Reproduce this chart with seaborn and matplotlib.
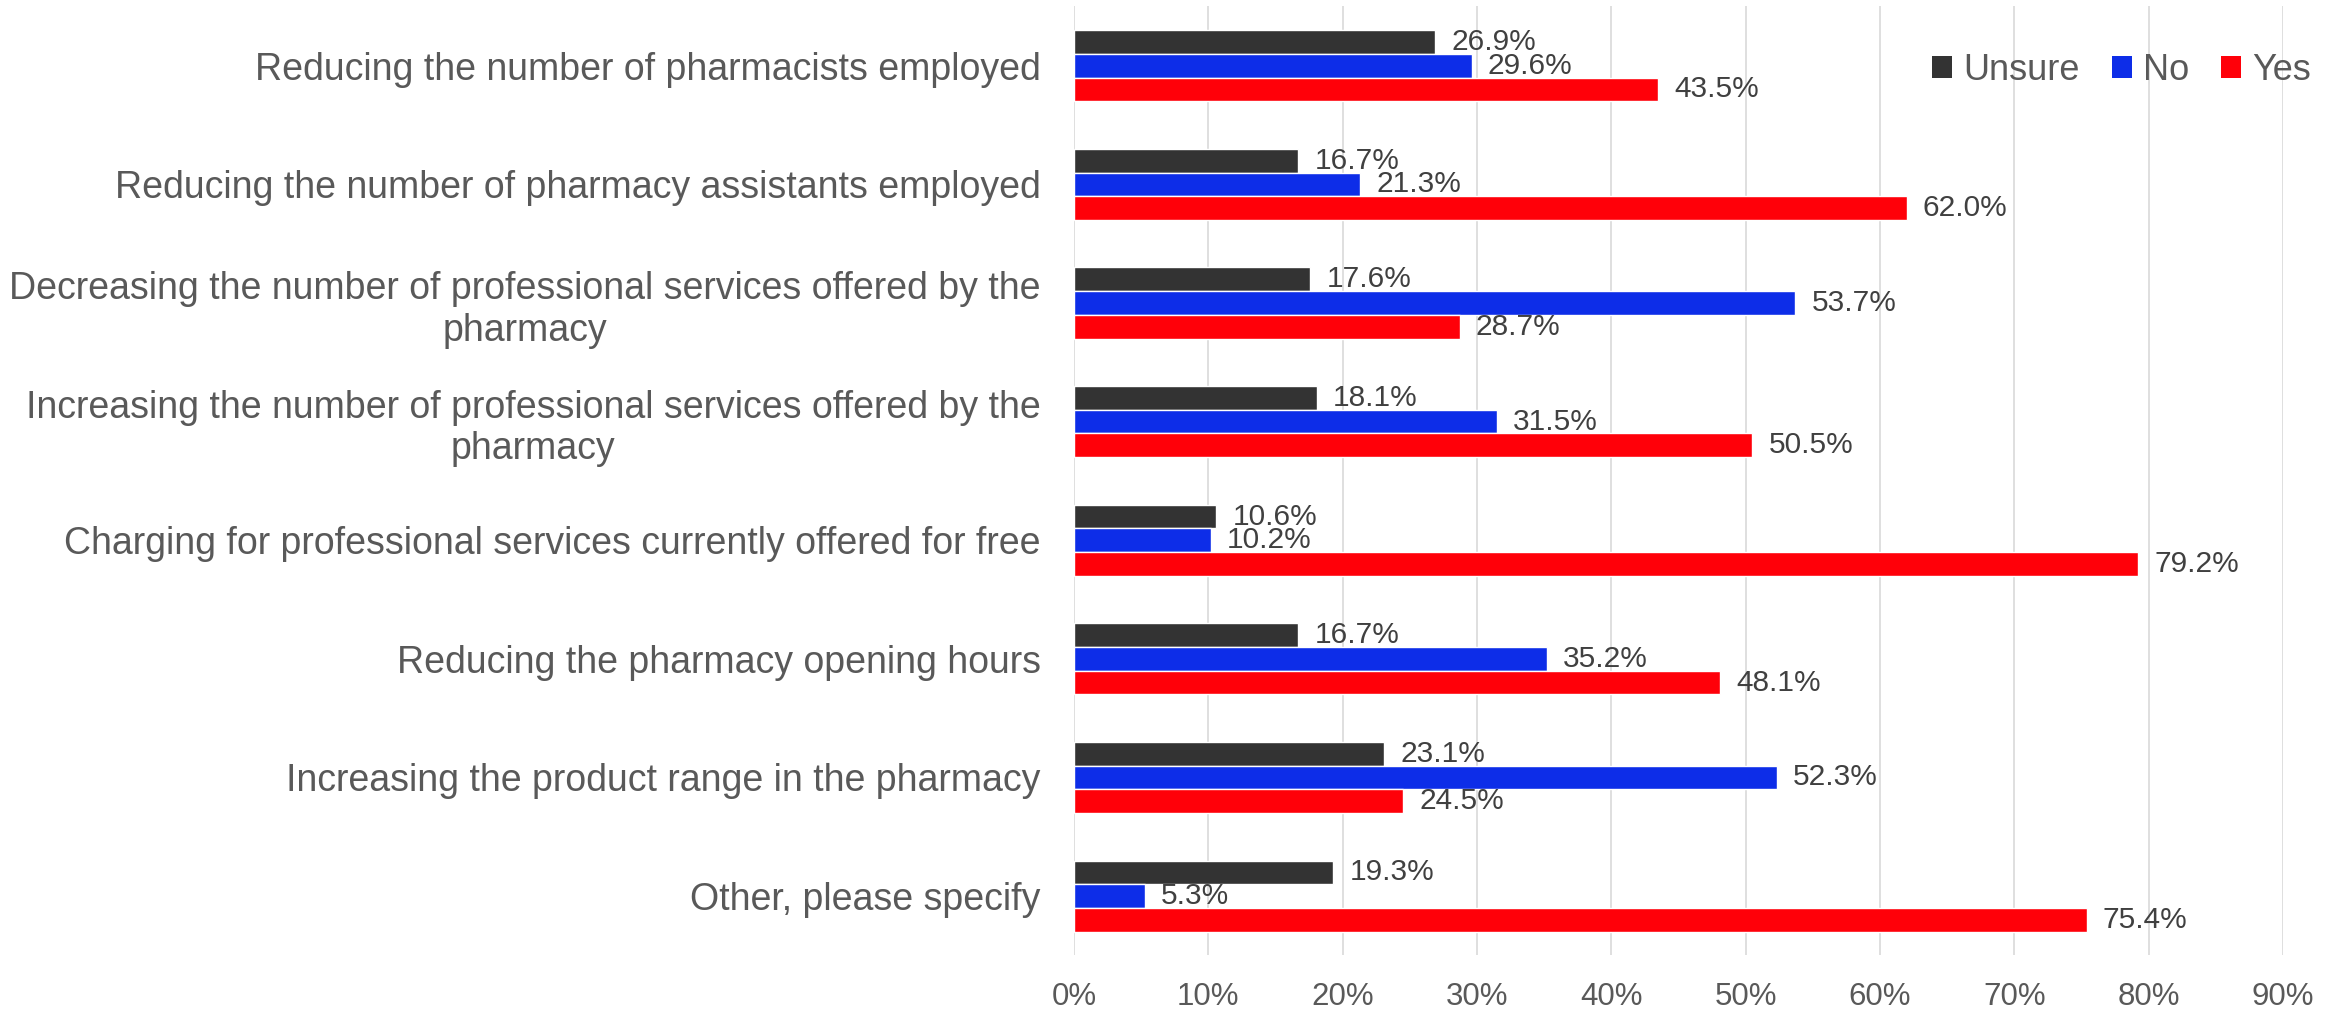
import matplotlib
matplotlib.use("Agg")
import matplotlib.pyplot as plt
import seaborn as sns
import pandas as pd
from matplotlib.patches import Patch
from matplotlib.ticker import FuncFormatter

categories = [
    "Reducing the number of pharmacists employed",
    "Reducing the number of pharmacy assistants employed",
    "Decreasing the number of professional services offered by the\npharmacy",
    "Increasing the number of professional services offered by the\npharmacy",
    "Charging for professional services currently offered for free",
    "Reducing the pharmacy opening hours",
    "Increasing the product range in the pharmacy",
    "Other, please specify",
]
unsure = [26.9, 16.7, 17.6, 18.1, 10.6, 16.7, 23.1, 19.3]
no = [29.6, 21.3, 53.7, 31.5, 10.2, 35.2, 52.3, 5.3]
yes = [43.5, 62.0, 28.7, 50.5, 79.2, 48.1, 24.5, 75.4]
series = ["Unsure", "No", "Yes"]
colors = {"Unsure": "#333333", "No": "#0D2DE8", "Yes": "#FF0009"}
xticks = [0, 10, 20, 30, 40, 50, 60, 70, 80, 90]

rows = []
for name, vals in zip(series, [unsure, no, yes]):
    for c, v in zip(categories, vals):
        rows.append({"category": c, "response": name, "value": v})
df = pd.DataFrame(rows)

sns.set_theme(style="white")
plt.rcParams["font.family"] = ["Liberation Sans", "DejaVu Sans"]

fig = plt.figure(figsize=(23.46, 10.09), dpi=100)
ax = fig.add_axes([0.4578, 0.0531, 0.9732 - 0.4578, 0.9936 - 0.0531])

sns.barplot(data=df, y="category", x="value", hue="response", hue_order=series,
            order=categories, palette=colors, orient="h", width=0.6,
            saturation=1, ax=ax, legend=False, errorbar=None)

for cont in ax.containers:
    ax.bar_label(cont, labels=[f"{v:.1f}%" for v in cont.datavalues],
                 padding=11.5, fontsize=21.5, color="#404040")

ax.set_xlim(0, 90)
ax.set_ylim(7.5, -0.5)
ax.set_xticks(xticks)
ax.xaxis.set_major_formatter(FuncFormatter(lambda v, p: f"{v:.0f}%"))
ax.grid(axis="x", color="#D9D9D9", linewidth=1.2)
ax.grid(axis="y", visible=False)
ax.set_axisbelow(True)
for s in ax.spines.values():
    s.set_visible(False)
ax.set_xlabel("")
ax.set_ylabel("")
ax.tick_params(axis="x", length=0, pad=19, labelsize=22.5, labelcolor="#595959")
ax.tick_params(axis="y", length=0, pad=24, labelsize=27, labelcolor="#595959")
for lab in ax.get_yticklabels():
    lab.set_multialignment("center")
    lab.set_linespacing(1.2)

handles = [Patch(facecolor=colors[s], edgecolor="none") for s in series]
leg = fig.legend(handles, series, loc="center right", bbox_to_anchor=(0.985, 0.930),
                 ncol=3, frameon=False, fontsize=26, handlelength=0.55, handleheight=0.55,
                 handletextpad=0.3, columnspacing=0.9, borderaxespad=0, borderpad=0,
                 labelcolor="#595959")

fig.savefig("out.png", dpi=100)
